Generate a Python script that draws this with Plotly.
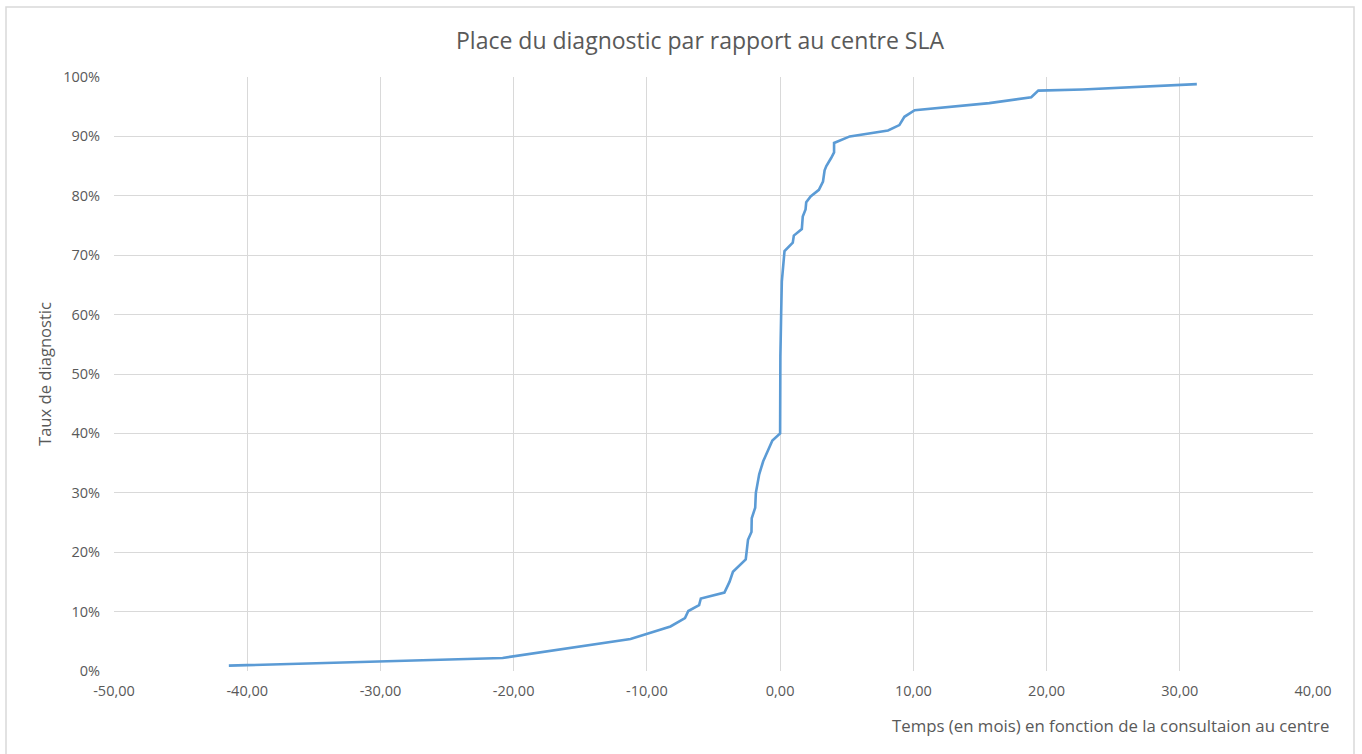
import plotly.graph_objects as go

# Data
temps_mois = [-41.38, -20.83, -11.23, -10.0, -8.23, -7.14, -6.89, -6.08, -5.95, -4.18,
              -3.8, -3.54, -2.58, -2.41, -2.15, -2.13, -1.87, -1.82, -1.57, -1.27,
              -0.58, 0.0, 0.0, 0.02, 0.08, 0.13, 0.33, 0.95, 1.03, 1.63,
              1.7, 1.91, 1.96, 2.29, 2.91, 3.22, 3.34, 3.47, 3.84, 4.05,
              4.05, 4.47, 5.23, 8.1, 8.95, 9.33, 10.1, 15.7, 18.85, 19.38,
              22.7, 31.28]
taux_diagnostic = [0.9, 2.2, 5.4, 6.3, 7.5, 8.9, 10.1, 11.1, 12.2, 13.2,
                   15.0, 16.7, 18.8, 22.1, 23.4, 25.7, 27.5, 30.0, 33.1, 35.3,
                   38.8, 40.0, 52.1, 53.0, 60.3, 65.6, 70.7, 72.1, 73.3, 74.4,
                   76.5, 77.7, 78.9, 79.9, 81.0, 82.4, 84.3, 85.0, 86.4, 87.3,
                   88.9, 89.3, 90.0, 91.0, 91.9, 93.3, 94.4, 95.6, 96.6, 97.7,
                   97.9, 98.8]

x_ticks = [-50, -40, -30, -20, -10, 0, 10, 20, 30, 40]
x_tick_labels = ["-50,00", "-40,00", "-30,00", "-20,00", "-10,00", "0,00", "10,00", "20,00", "30,00", "40,00"]
y_ticks = [0, 10, 20, 30, 40, 50, 60, 70, 80, 90, 100]
y_tick_labels = ["0%", "10%", "20%", "30%", "40%", "50%", "60%", "70%", "80%", "90%", "100%"]

title_text = "Place du diagnostic par rapport au centre SLA"
x_title = "Temps (en mois) en fonction de la consultaion au centre"
y_title = "Taux de diagnostic"

FONT = "Open Sans"
TXT = "#595959"
GRID = "#D9D9D9"

fig = go.Figure()
fig.add_trace(go.Scatter(
    x=temps_mois, y=taux_diagnostic, mode="lines",
    line=dict(color="#5B9BD5", width=2.6),
    showlegend=False, hoverinfo="x+y",
))

W, H = 1362, 754
L, R, T, B = 114, 1313, 77, 671

def px(xp):
    return (xp - L) / (R - L)

def py(yp):
    return (B - yp) / (B - T)

fig.update_layout(
    width=W, height=H,
    margin=dict(l=L, r=W - R, t=T, b=H - B, pad=0),
    paper_bgcolor="white", plot_bgcolor="white",
    font=dict(family=FONT, color=TXT, size=14),
    xaxis=dict(
        range=[-50, 40], tickvals=x_ticks, ticktext=x_tick_labels,
        showgrid=True, gridcolor=GRID, gridwidth=1,
        zeroline=False, showline=False, ticks="",
        tickfont=dict(family=FONT, size=14.5, color=TXT),
        ticklabelstandoff=9, fixedrange=True,
    ),
    yaxis=dict(
        range=[0, 100], tickvals=y_ticks, ticktext=y_tick_labels,
        showgrid=True, gridcolor=GRID, gridwidth=1,
        zeroline=False, showline=False, ticks="",
        tickfont=dict(family=FONT, size=14.5, color=TXT),
        ticklabelstandoff=13, fixedrange=True,
    ),
    annotations=[
        dict(text=title_text, x=px(700), y=py(40), xref="paper", yref="paper",
             showarrow=False, xanchor="center", yanchor="middle",
             font=dict(family=FONT, size=23, color=TXT)),
        dict(text=x_title, x=px(1331), y=py(725), xref="paper", yref="paper",
             showarrow=False, xanchor="right", yanchor="middle",
             font=dict(family=FONT, size=16.8, color=TXT)),
        dict(text=y_title, x=px(44), y=py(374), xref="paper", yref="paper",
             showarrow=False, xanchor="center", yanchor="middle", textangle=-90,
             font=dict(family=FONT, size=16.6, color=TXT)),
    ],
    shapes=[
        dict(type="rect", xref="paper", yref="paper",
             x0=px(6), x1=px(1354), y0=py(760), y1=py(7),
             line=dict(color="#D9D9D9", width=1.5), fillcolor="rgba(0,0,0,0)",
             layer="below"),
    ],
)

fig.write_html("out.html", config={"displayModeBar": False},
               post_script="document.body.style.margin='0';document.body.style.overflow='hidden';")
